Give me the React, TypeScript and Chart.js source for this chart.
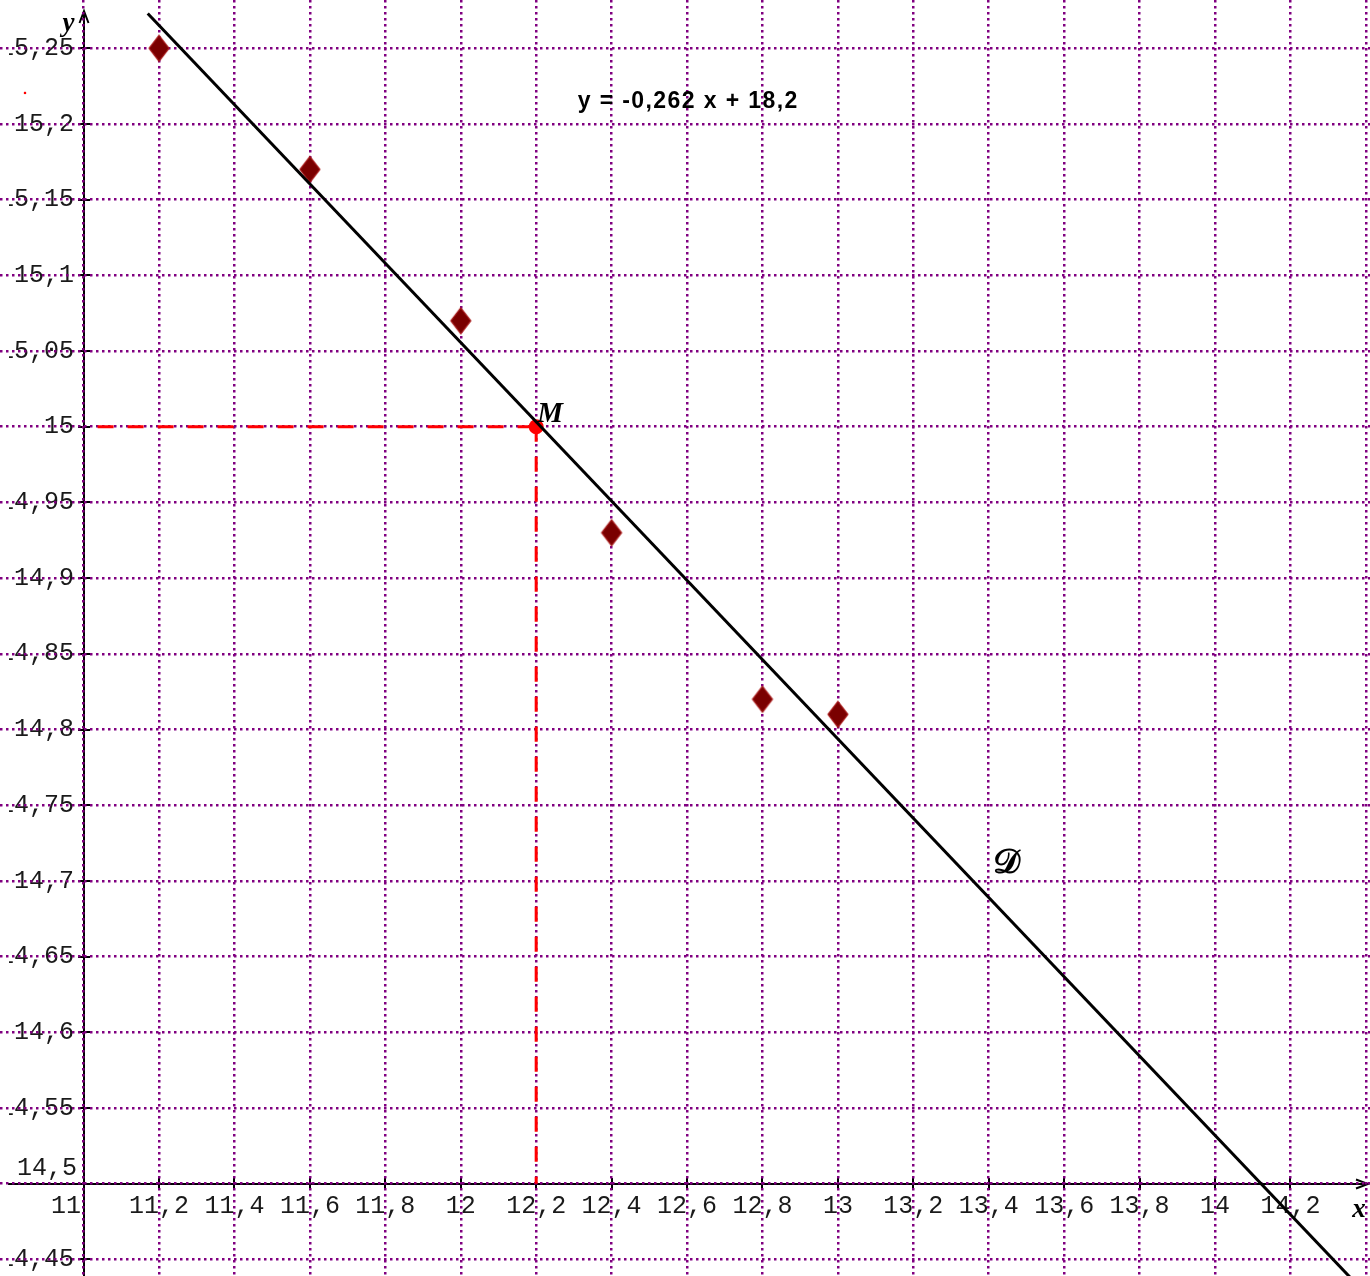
import React, { useEffect, useRef } from "react";
import { Chart, registerables } from "chart.js";

Chart.register(...registerables);

// ---- data ----
const pointsX = [11.2, 11.6, 12, 12.4, 12.8, 13];
const pointsY = [15.25, 15.17, 15.07, 14.93, 14.82, 14.81];
const fitX = [11.17, 14.5];
const fitY = [15.273, 14.401];
const meanX = [12.2];
const meanY = [15];
const strayX = [10.8446];
const strayY = [15.2205];
const hDashX = [11, 12.2];
const hDashY = [15, 15];
const vDashX = [12.2, 12.2];
const vDashY = [15, 14.5];

const xGridValues = [11, 11.2, 11.4, 11.6, 11.8, 12, 12.2, 12.4, 12.6, 12.8, 13, 13.2, 13.4, 13.6, 13.8, 14, 14.2, 14.4];
const xTickValues = [11, 11.2, 11.4, 11.6, 11.8, 12, 12.2, 12.4, 12.6, 12.8, 13, 13.2, 13.4, 13.6, 13.8, 14, 14.2];
const xTickLabels = ["11", "11,2", "11,4", "11,6", "11,8", "12", "12,2", "12,4", "12,6", "12,8", "13", "13,2", "13,4", "13,6", "13,8", "14", "14,2"];
const yTickValues = [15.25, 15.2, 15.15, 15.1, 15.05, 15, 14.95, 14.9, 14.85, 14.8, 14.75, 14.7, 14.65, 14.6, 14.55, 14.5, 14.45];
const yTickLabels = ["15,25", "15,2", "15,15", "15,1", "15,05", "15", "14,95", "14,9", "14,85", "14,8", "14,75", "14,7", "14,65", "14,6", "14,55", "14,5", "14,45"];

const equationText = "y = -0,262 x + 18,2";
const pointLabel = "M";
const lineLabel = "𝒟";

const X_MIN = 10.7783;
const X_MAX = 14.4109;
const Y_MIN = 14.439;
const Y_MAX = 15.2819;
const ORIGIN_X = 11;
const ORIGIN_Y = 14.5;

function makeDiamond(): HTMLCanvasElement {
  const c = document.createElement("canvas");
  c.width = 24;
  c.height = 30;
  const g = c.getContext("2d")!;
  g.beginPath();
  g.moveTo(12, 2);
  g.lineTo(22, 15);
  g.lineTo(12, 28);
  g.lineTo(2, 15);
  g.closePath();
  g.fillStyle = "#7a0000";
  g.fill();
  g.lineWidth = 1.2;
  g.strokeStyle = "#a81818";
  g.stroke();
  return c;
}

const backgroundAndAxes = {
  id: "backgroundAndAxes",
  beforeDraw(chart: any) {
    const { ctx, width, height, scales } = chart;
    const xs = scales.x;
    const ys = scales.y;
    ctx.save();
    ctx.fillStyle = "#ffffff";
    ctx.fillRect(0, 0, width, height);

    const ax = Math.round(xs.getPixelForValue(ORIGIN_X));
    const ay = Math.round(ys.getPixelForValue(ORIGIN_Y));

    ctx.strokeStyle = "#000000";
    ctx.lineWidth = 2;
    ctx.lineCap = "butt";
    // y axis
    ctx.beginPath();
    ctx.moveTo(ax, height);
    ctx.lineTo(ax, 11);
    ctx.stroke();
    ctx.beginPath();
    ctx.moveTo(ax - 4.5, 23);
    ctx.lineTo(ax, 11);
    ctx.lineTo(ax + 4.5, 23);
    ctx.stroke();
    // x axis
    ctx.beginPath();
    ctx.moveTo(8, ay);
    ctx.lineTo(width - 2, ay);
    ctx.stroke();
    ctx.beginPath();
    ctx.moveTo(width - 14, ay - 4.5);
    ctx.lineTo(width - 2, ay);
    ctx.lineTo(width - 14, ay + 4.5);
    ctx.stroke();

    // tick marks
    ctx.lineWidth = 2;
    xTickValues.forEach((v) => {
      if (v === ORIGIN_X) return;
      const px = Math.round(xs.getPixelForValue(v));
      ctx.beginPath();
      ctx.moveTo(px, ay - 6);
      ctx.lineTo(px, ay + 6);
      ctx.stroke();
    });
    yTickValues.forEach((v) => {
      if (v === ORIGIN_Y) return;
      const py = Math.round(ys.getPixelForValue(v));
      ctx.beginPath();
      ctx.moveTo(ax - 6, py);
      ctx.lineTo(ax + 6, py);
      ctx.stroke();
    });

    // tick labels
    ctx.fillStyle = "#1a1a1a";
    ctx.font = "25px 'Liberation Mono', 'Courier New', monospace";
    ctx.textBaseline = "middle";
    xTickValues.forEach((v, i) => {
      const px = xs.getPixelForValue(v);
      if (v === ORIGIN_X) {
        ctx.textAlign = "right";
        ctx.fillText(xTickLabels[i], ax - 3, ay + 22);
      } else {
        ctx.textAlign = "center";
        ctx.fillText(xTickLabels[i], px, ay + 22);
      }
    });
    // y labels are clipped on the left, as in the reference
    ctx.save();
    ctx.beginPath();
    ctx.rect(9, 0, width - 9, height);
    ctx.clip();
    yTickValues.forEach((v, i) => {
      const py = ys.getPixelForValue(v);
      ctx.textAlign = "right";
      if (v === ORIGIN_Y) {
        ctx.fillText(yTickLabels[i], ax - 7, py - 15);
      } else {
        ctx.fillText(yTickLabels[i], ax - 10, py);
      }
    });
    ctx.restore();
    ctx.restore();
  },
  afterDraw(chart: any) {
    const { ctx, scales, width } = chart;
    const xs = scales.x;
    const ys = scales.y;
    const ax = xs.getPixelForValue(ORIGIN_X);
    const ay = ys.getPixelForValue(ORIGIN_Y);
    ctx.save();
    ctx.fillStyle = "#000000";
    // axis names
    ctx.font = "italic bold 27px 'Liberation Serif', 'DejaVu Serif', serif";
    ctx.textAlign = "center";
    ctx.textBaseline = "alphabetic";
    ctx.fillText("y", ax - 15, 31);
    ctx.fillText("x", width - 11, ay + 33);

    // equation
    ctx.font = "bold 23px 'Liberation Sans', Arial, sans-serif";
    try {
      (ctx as any).letterSpacing = "1.4px";
    } catch (e) {}
    ctx.textAlign = "center";
    ctx.textBaseline = "middle";
    ctx.fillText(equationText, xs.getPixelForValue(12.603), ys.getPixelForValue(15.215));
    try {
      (ctx as any).letterSpacing = "0px";
    } catch (e) {}

    // M label
    const mx = xs.getPixelForValue(meanX[0]);
    const my = ys.getPixelForValue(meanY[0]);
    ctx.font = "italic bold 29px 'Liberation Serif', 'DejaVu Serif', serif";
    ctx.textAlign = "left";
    ctx.textBaseline = "alphabetic";
    ctx.fillText(pointLabel, mx + 1, my - 5);

    // D label
    ctx.font = "bold 34px 'DejaVu Serif', 'Liberation Serif', serif";
    ctx.textAlign = "center";
    ctx.textBaseline = "middle";
    ctx.fillText(lineLabel, xs.getPixelForValue(13.446), ys.getPixelForValue(14.711));
    ctx.restore();
  },
};

export default function App() {
  const ref = useRef<HTMLCanvasElement | null>(null);

  useEffect(() => {
    if (!ref.current) return;
    const diamond = makeDiamond();
    const gridStyle = {
      color: "#800080",
      lineWidth: 2.5,
      drawTicks: false,
      borderDash: [2.5, 3.5],
    };
    const chart = new Chart(ref.current, {
      type: "scatter",
      data: {
        datasets: [
          {
            type: "line",
            label: "fit",
            data: fitX.map((x, i) => ({ x, y: fitY[i] })),
            borderColor: "#000000",
            borderWidth: 3,
            pointRadius: 0,
            fill: false,
            tension: 0,
          },
          {
            label: "M",
            data: meanX.map((x, i) => ({ x, y: meanY[i] })),
            backgroundColor: "#ff0000",
            borderColor: "#ff0000",
            pointRadius: 7.5,
            borderWidth: 0,
          },
          {
            label: "points",
            data: pointsX.map((x, i) => ({ x, y: pointsY[i] })),
            pointStyle: diamond,
            pointRadius: 11,
          },
          {
            label: "stray",
            data: strayX.map((x, i) => ({ x, y: strayY[i] })),
            pointStyle: "rect",
            backgroundColor: "#ff0000",
            borderColor: "#ff0000",
            borderWidth: 0,
            pointRadius: 1.6,
          },
          {
            type: "line",
            label: "hdash",
            data: hDashX.map((x, i) => ({ x, y: hDashY[i] })),
            borderColor: "#ff0000",
            borderWidth: 3,
            borderDash: [16, 14],
            borderDashOffset: 16,
            pointRadius: 0,
            fill: false,
          },
          {
            type: "line",
            label: "vdash",
            data: vDashX.map((x, i) => ({ x, y: vDashY[i] })),
            borderColor: "#ff0000",
            borderWidth: 3,
            borderDash: [15, 15],
            borderDashOffset: 0,
            pointRadius: 0,
            fill: false,
          },
        ],
      },
      options: {
        animation: false,
        responsive: false,
        maintainAspectRatio: false,
        devicePixelRatio: 1,
        events: [],
        layout: { padding: 0, autoPadding: false },
        plugins: {
          legend: { display: false },
          tooltip: { enabled: false },
        },
        scales: {
          x: {
            type: "linear",
            min: X_MIN,
            max: X_MAX,
            afterBuildTicks: (s: any) => {
              s.ticks = xGridValues.map((v) => ({ value: v }));
            },
            ticks: { display: false, padding: 0 },
            grid: gridStyle as any,
            border: { display: false, dash: [2.5, 3.5] },
          },
          y: {
            type: "linear",
            min: Y_MIN,
            max: Y_MAX,
            afterBuildTicks: (s: any) => {
              s.ticks = yTickValues.map((v) => ({ value: v }));
            },
            ticks: { display: false, padding: 0 },
            grid: gridStyle as any,
            border: { display: false, dash: [2.5, 3.5] },
          },
        },
      },
      plugins: [backgroundAndAxes],
    });
    return () => chart.destroy();
  }, []);

  return (
    <div style={{ position: "absolute", left: 0, top: 0, width: 1370, height: 1276 }}>
      <canvas ref={ref} width={1370} height={1276} style={{ display: "block", width: 1370, height: 1276 }} />
    </div>
  );
}
